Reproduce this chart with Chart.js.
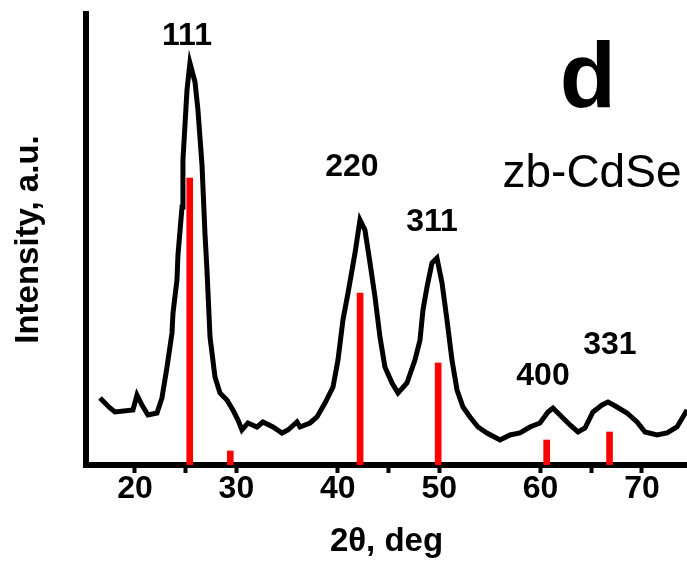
<!DOCTYPE html>
<html>
<head>
<meta charset="utf-8">
<script src="https://cdn.jsdelivr.net/npm/chart.js@4.4.1/dist/chart.umd.min.js"></script>
<style>
  html, body { margin: 0; padding: 0; background: #ffffff; }
  #wrap { width: 687px; height: 561px; }
</style>
</head>
<body>
<div id="wrap"><canvas id="c" width="687" height="561"></canvas></div>
<script>
// ---- Data ----
const twoTheta = [16.55, 17.53, 18.03, 19.80, 20.20, 20.69, 21.28, 22.17, 22.66, 23.16,
  23.65, 23.75, 24.14, 24.24, 24.64, 24.73, 25.13, 25.42, 25.92, 26.21,
  26.61, 26.90, 27.10, 27.40, 27.89, 28.38, 29.07, 29.66, 30.16, 30.55,
  31.14, 32.03, 32.62, 33.61, 34.50, 35.09, 35.98, 36.27, 37.26, 37.95,
  38.74, 39.53, 40.02, 40.51, 41.01, 41.70, 42.19, 42.68, 43.18, 43.67,
  44.16, 44.65, 45.35, 45.94, 46.82, 47.61, 48.11, 48.40, 48.80, 49.29,
  49.78, 50.28, 50.77, 51.26, 51.76, 52.35, 53.04, 53.83, 54.71, 56.00,
  56.98, 57.97, 58.95, 59.94, 60.73, 61.22, 62.11, 62.90, 63.69, 64.38,
  65.17, 66.06, 66.65, 67.54, 68.52, 69.51, 70.30, 71.48, 72.47, 73.45,
  74.04, 74.44];
const intensity = [67, 57, 53, 55, 70, 60, 50, 52, 67, 98,
  132, 152, 185, 210, 258, 305, 375, 402, 383, 355,
  300, 232, 195, 128, 88, 72, 65, 55, 45, 35,
  42, 38, 43, 38, 32, 35, 43, 38, 42, 48,
  62, 78, 105, 145, 172, 212, 245, 235, 202, 168,
  128, 98, 82, 72, 82, 105, 125, 155, 178, 202,
  207, 182, 145, 105, 75, 58, 48, 38, 32, 25,
  30, 32, 38, 42, 53, 57, 48, 40, 33, 37,
  53, 60, 63, 58, 52, 43, 33, 30, 32, 38,
  48, 55];

// reference (standard) lines for zinc-blende CdSe
const refTwoTheta = [25.4, 29.4, 42.2, 49.9, 60.6, 66.8];
const refIntensity = [287, 14, 172, 102, 25, 33];

// peak (hkl) labels
const peakLabels = ['111', '220', '311', '400', '331'];
const peakLabelX = [25.13, 41.40, 49.29, 60.24, 66.84];
const peakLabelY = [429, 298, 243, 89, 120];

// axis ticks
const majorTicks = [20, 30, 40, 50, 60, 70];
const majorTickLabels = ['20', '30', '40', '50', '60', '70'];
const minorTicks = [25, 45, 65];

const panelLetter = 'd';
const sampleName = 'zb-CdSe';

const FONT = "'Liberation Sans', Arial, Helvetica, sans-serif";

const annotationPlugin = {
  id: 'xrdText',
  afterDatasetsDraw(chart) {
    const ctx = chart.ctx;
    const xs = chart.scales.x, ys = chart.scales.y;
    ctx.save();
    ctx.fillStyle = '#000';
    ctx.textAlign = 'center';
    ctx.textBaseline = 'middle';
    ctx.font = 'bold 32px ' + FONT;
    peakLabels.forEach((t, i) => {
      ctx.fillText(t, xs.getPixelForValue(peakLabelX[i]), ys.getPixelForValue(peakLabelY[i]));
    });
    ctx.textBaseline = 'alphabetic';
    ctx.font = 'bold 92px ' + FONT;
    ctx.fillText(panelLetter, xs.getPixelForValue(64.67), ys.getPixelForValue(358));
    ctx.font = '46px ' + FONT;
    ctx.fillText(sampleName, xs.getPixelForValue(65.07), ys.getPixelForValue(278));
    ctx.restore();
  }
};

const tickValues = majorTicks.concat(minorTicks).sort((a, b) => a - b);

new Chart(document.getElementById('c'), {
  type: 'line',
  data: {
    datasets: [
      {
        type: 'bar',
        label: 'reference',
        data: refTwoTheta.map((x, i) => ({ x: x, y: refIntensity[i] })),
        backgroundColor: '#ff0000',
        borderWidth: 0,
        barThickness: 6,
        grouped: false,
        order: 0
      },
      {
        type: 'line',
        label: 'XRD',
        data: twoTheta.map((x, i) => ({ x: x, y: intensity[i] })),
        borderColor: '#000000',
        borderWidth: 5,
        pointRadius: 0,
        tension: 0,
        fill: false,
        order: 1
      }
    ]
  },
  options: {
    responsive: false,
    animation: false,
    events: [],
    layout: { padding: { top: 14, left: 0, right: 0, bottom: 0 }, autoPadding: false },
    plugins: { legend: { display: false }, tooltip: { enabled: false } },
    scales: {
      x: {
        type: 'linear',
        offset: false,
        min: 15.17,
        max: 74.44,
        afterBuildTicks: (s) => { s.ticks = tickValues.map(v => ({ value: v })); },
        afterFit: (s) => { s.height = 96; },
        ticks: {
          autoSkip: false,
          maxRotation: 0,
          padding: 0,
          color: '#000',
          font: { family: FONT, size: 32, weight: 'bold', lineHeight: 1 },
          callback: (v) => {
            const i = majorTicks.indexOf(v);
            return i >= 0 ? majorTickLabels[i] : '';
          }
        },
        grid: {
          display: true,
          offset: false,
          drawOnChartArea: false,
          drawTicks: true,
          tickLength: 8,
          tickWidth: 4,
          tickColor: '#000'
        },
        border: { display: true, width: 6, color: '#000' },
        title: {
          display: true,
          text: '2θ, deg',
          color: '#000',
          font: { family: FONT, size: 33, weight: 'bold', lineHeight: 1.15 },
          padding: { top: 0, bottom: 0 }
        }
      },
      y: {
        type: 'linear',
        min: 0,
        max: 451,
        afterFit: (s) => { s.width = 86; },
        ticks: { display: false },
        grid: { display: false, drawTicks: false },
        border: { display: true, width: 6, color: '#000' },
        title: {
          display: true,
          text: 'Intensity, a.u.',
          color: '#000',
          font: { family: FONT, size: 33, weight: 'bold', lineHeight: 1.2 },
          padding: { top: 9, bottom: 0 }
        }
      }
    }
  },
  plugins: [annotationPlugin]
});
</script>
</body>
</html>
